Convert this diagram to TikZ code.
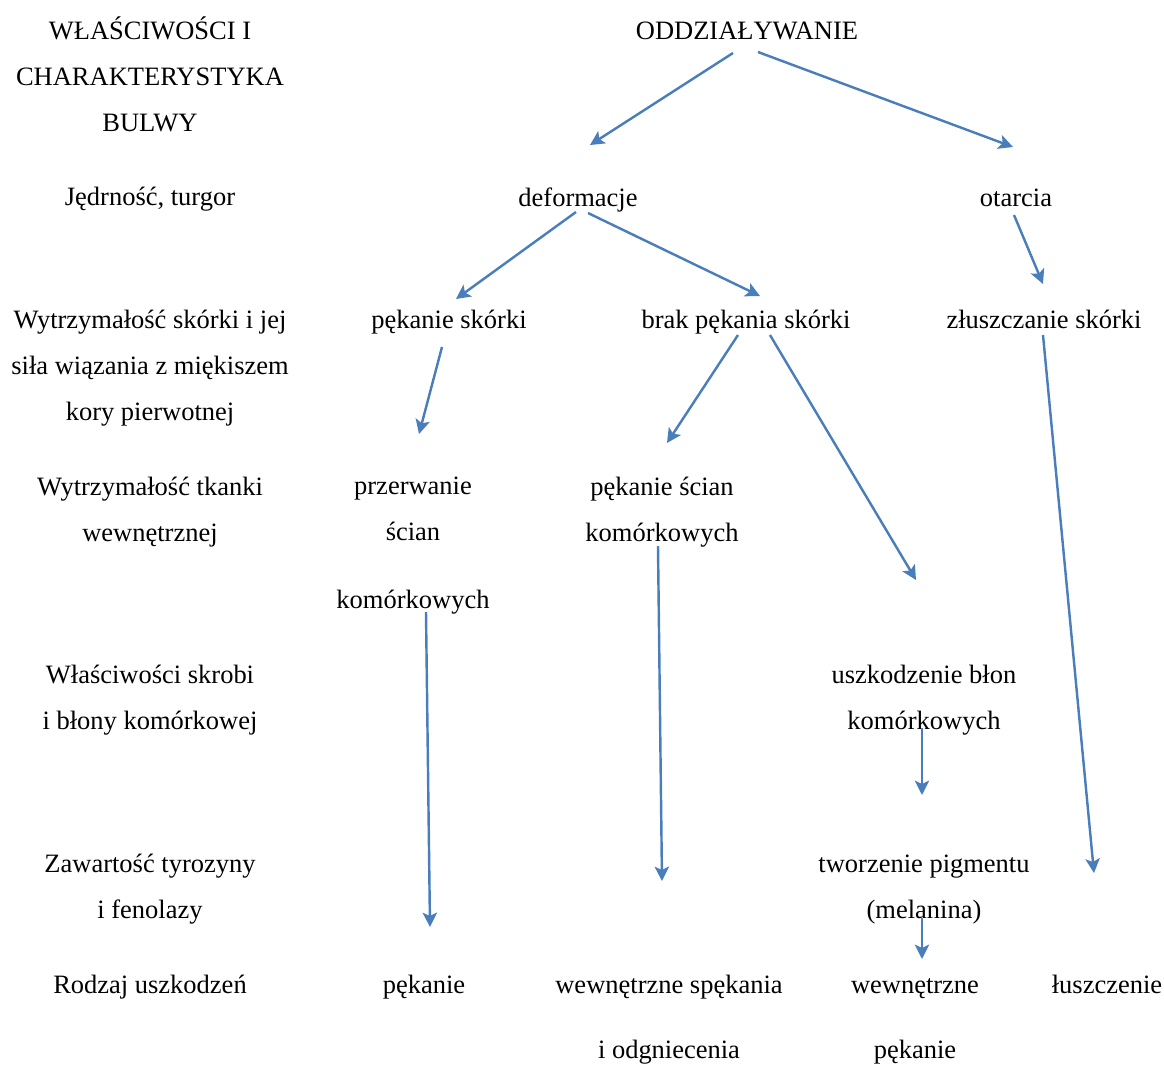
\documentclass[tikz,border=0pt]{standalone}
\usepackage{fontspec}
\setmainfont{Liberation Serif}
\usepackage{xcolor}
\usepackage{tikz}
\usetikzlibrary{arrows.meta, positioning}

\definecolor{wordblue}{HTML}{4A7EBB}

\begin{document}
\begin{tikzpicture}[
    x=0.453pt, y=-0.453pt,
    txt/.style={anchor=base, inner sep=0pt, align=center, font=\fontsize{12}{20.8}\selectfont},
    arr/.style={-{Stealth[length=6.5pt, width=6.5pt, inset=1.5pt]}, line width=1.1pt, draw=wordblue},
]
\useasboundingbox (0,0) rectangle (1164,1065);

% --- left column: properties (placed by last line) ---
\node[txt] (w_head) at (150, 131) {WŁAŚCIWOŚCI I\\CHARAKTERYSTYKA\\BULWY};
\node[txt] (w_turg) at (150, 205) {Jędrność, turgor};
\node[txt] (w_skor) at (150, 420) {Wytrzymałość skórki i jej\\siła wiązania z miękiszem\\kory pierwotnej};
\node[txt] (w_tkan) at (150, 541) {Wytrzymałość tkanki\\wewnętrznej};
\node[txt] (w_skro) at (150, 729) {Właściwości skrobi\\i błony komórkowej};
\node[txt] (w_tyro) at (150, 918) {Zawartość tyrozyny\\i fenolazy};
\node[txt] (w_rodz) at (150, 993) {Rodzaj uszkodzeń};

% --- impact tree ---
\node[txt] (odd) at (747, 39) {ODDZIAŁYWANIE};
\node[txt] (def) at (578, 206) {deformacje};
\node[txt] (ota) at (1016, 206) {otarcia};
\node[txt] (pek_sk) at (449, 328) {pękanie skórki};
\node[txt] (brak) at (746, 328) {brak pękania skórki};
\node[txt] (zlu) at (1044, 328) {złuszczanie skórki};
\node[txt] (przer) at (413, 608) {przerwanie\\ścian\\[10pt]komórkowych};
\node[txt] (pek_sc) at (662, 541) {pękanie ścian\\komórkowych};
\node[txt] (uszk) at (924, 729) {uszkodzenie błon\\komórkowych};
\node[txt] (pigm) at (924, 918) {tworzenie pigmentu\\(melanina)};

% --- damage types ---
\node[txt] (d_pek) at (424, 993) {pękanie};
\node[txt] (d_spek) at (669, 1058) {wewnętrzne spękania\\[8.6pt]i odgniecenia};
\node[txt] (d_wew) at (915, 1058) {wewnętrzne\\[8.6pt]pękanie};
\node[txt] (d_lusz) at (1107, 993) {łuszczenie};

\draw[arr] ([shift={(-14,14)}]odd.base) -- ([shift={(12,-61)}]def.base);
\draw[arr] ([shift={(11,13)}]odd.base) -- ([shift={(-3,-59)}]ota.base);
\draw[arr] ([shift={(-2,6)}]def.base) -- ([shift={(7,-29)}]pek_sk.base);
\draw[arr] ([shift={(10,7)}]def.base) -- ([shift={(14,-32)}]brak.base);
\draw[arr] ([shift={(-2,9)}]ota.base) -- ([shift={(-1,-44)}]zlu.base);
\draw[arr] ([shift={(-7,19)}]pek_sk.base) -- ([shift={(6,-174)}]przer.base);
\draw[arr] ([shift={(-8,7)}]brak.base) -- ([shift={(5,-98)}]pek_sc.base);
\draw[arr] ([shift={(24,7)}]brak.base) -- ([shift={(-8,-149)}]uszk.base);
\draw[arr] ([shift={(-1,7)}]zlu.base) -- ([shift={(-13,-120)}]d_lusz.base);
\draw[arr] ([shift={(13,4)}]przer.base) -- ([shift={(6,-66)}]d_pek.base);
\draw[arr] ([shift={(-4,5)}]pek_sc.base) -- ([shift={(-7,-177)}]d_spek.base);
\draw[arr] ([shift={(-2,-1)}]uszk.base) -- ([shift={(-2,-123)}]pigm.base);
\draw[arr] ([shift={(-2,0)}]pigm.base) -- ([shift={(7,-99)}]d_wew.base);
\end{tikzpicture}
\end{document}
